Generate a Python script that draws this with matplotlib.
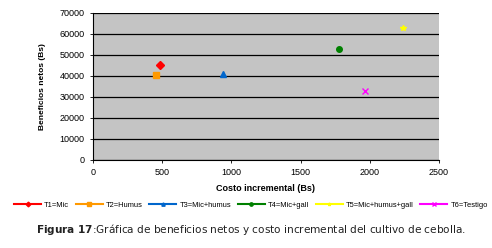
import matplotlib
matplotlib.use("Agg")
from matplotlib import pyplot as plt

plt.rcParams['font.family'] = ['Liberation Sans', 'DejaVu Sans']

# Data
labels = ['T1=Mic', 'T2=Humus', 'T3=Mic+humus', 'T4=Mic+gall', 'T5=Mic+humus+gall', 'T6=Testigo']
costo = [484, 455, 939, 1778, 2240, 1965]
beneficio = [45000, 40500, 41000, 53000, 63000, 33000]
colors = ['#ff0000', '#ff9900', '#0066cc', '#008000', '#ffff00', '#ff00ff']
markers = ['D', 's', '^', 'o', '*', 'x']

fig = plt.figure(figsize=(4.92, 2.48), dpi=100)
ax = fig.add_axes([0.189, 0.355, 0.703, 0.593])
ax.set_facecolor('#c4c4c4')

for lab, x, y, c, m in zip(labels, costo, beneficio, colors, markers):
    ax.plot([x], [y], linestyle='-', marker=m, color=c, markersize=4,
            markeredgewidth=1, label=lab)

ax.set_xlim(0, 2500)
ax.set_ylim(0, 70000)
ax.set_xticks(range(0, 2501, 500))
ax.set_yticks(range(0, 70001, 10000))
ax.yaxis.grid(True, color='black', linewidth=0.9)
ax.set_axisbelow(True)
for side in ['top', 'right']:
    ax.spines[side].set_visible(False)
ax.spines['left'].set_linewidth(0.8)
ax.spines['bottom'].set_linewidth(0.8)
ax.tick_params(labelsize=6.5, length=2, width=0.6, pad=4)

ax.set_xlabel('Costo incremental (Bs)', fontsize=6.5, fontweight='bold', labelpad=5)
ax.set_ylabel('Beneficios netos (Bs)', fontsize=6, fontweight='bold', labelpad=10)

fig.legend(loc='center', bbox_to_anchor=(0.51, 0.173), ncol=6, fontsize=5.4,
           frameon=False, handlelength=3.6, handletextpad=0.4, columnspacing=0.9,
           markerscale=0.6)

fig.text(0.51, 0.075, r'$\bf{Figura\ 17}$' + ':Gráfica de beneficios netos y costo incremental del cultivo de cebolla.',
         ha='center', va='center', fontsize=7.6, color='#222222',
         family=['DejaVu Sans'])

fig.savefig('out.png', dpi=100)
